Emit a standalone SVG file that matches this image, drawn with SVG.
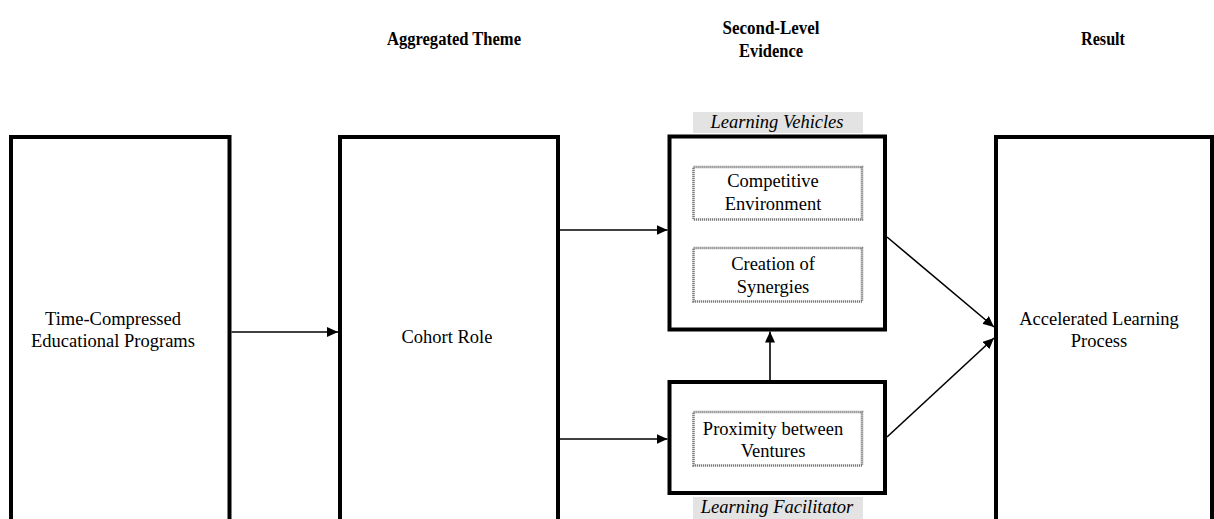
<svg xmlns="http://www.w3.org/2000/svg" width="1214" height="519" viewBox="0 0 1214 519">
  <style>
    .frame { fill: #ffffff; stroke: #000000; stroke-width: 4; }
    .inner { fill: #ffffff; stroke: #7a7a7a; stroke-width: 2.5; stroke-dasharray: 1.2 0.8; }
    .tag { fill: #e3e3e3; }
    .head { font-family: "Liberation Serif", "Times New Roman", serif; font-weight: bold; font-size: 18.5px; fill: #000; text-anchor: middle; }
    .body { font-family: "Liberation Serif", "Times New Roman", serif; font-size: 18.5px; fill: #000; text-anchor: middle; }
    .ital { font-family: "Liberation Serif", "Times New Roman", serif; font-style: italic; font-size: 18.5px; fill: #000; text-anchor: middle; }
    .link { stroke: #000000; stroke-width: 1.6; fill: none; marker-end: url(#arrow); }
  </style>
  <defs>
    <marker id="arrow" markerUnits="userSpaceOnUse" markerWidth="12" markerHeight="10" refX="11" refY="5" orient="auto">
      <path d="M0,0 L11,5 L0,10 Z" fill="#000"/>
    </marker>
  </defs>

  <rect width="1214" height="519" fill="#ffffff"/>

  <!-- column headers (narrow bold lettering) -->
  <g id="headers">
    <text class="head" x="454" y="45" textLength="134" lengthAdjust="spacingAndGlyphs">Aggregated Theme</text>
    <text class="head" x="771" y="34" textLength="97" lengthAdjust="spacingAndGlyphs">Second-Level</text>
    <text class="head" x="771" y="57" textLength="64" lengthAdjust="spacingAndGlyphs">Evidence</text>
    <text class="head" x="1103" y="45" textLength="44" lengthAdjust="spacingAndGlyphs">Result</text>
  </g>

  <g id="node-programs">
    <rect class="frame" x="11" y="137" width="218.5" height="400"/>
    <text class="body" x="113" y="325">Time-Compressed</text>
    <text class="body" x="113" y="347">Educational Programs</text>
  </g>

  <g id="node-cohort">
    <rect class="frame" x="340" y="137" width="218" height="400"/>
    <text class="body" x="447" y="343">Cohort Role</text>
  </g>

  <g id="node-vehicles">
    <rect class="tag" x="693" y="112" width="170" height="21"/>
    <text class="ital" x="777" y="128">Learning Vehicles</text>
    <rect class="frame" x="669.5" y="136.5" width="215.5" height="193"/>
    <g id="node-competitive">
      <rect class="inner" x="693.5" y="167" width="168.5" height="52.5"/>
      <text class="body" x="773" y="187">Competitive</text>
      <text class="body" x="773" y="210">Environment</text>
    </g>
    <g id="node-synergies">
      <rect class="inner" x="693.5" y="248" width="168.5" height="53.5"/>
      <text class="body" x="773" y="270">Creation of</text>
      <text class="body" x="773" y="293">Synergies</text>
    </g>
  </g>

  <g id="node-facilitator">
    <rect class="frame" x="669.5" y="382" width="215.5" height="111"/>
    <g id="node-proximity">
      <rect class="inner" x="693.5" y="412" width="168.5" height="53.5"/>
      <text class="body" x="773" y="435">Proximity between</text>
      <text class="body" x="773" y="457">Ventures</text>
    </g>
    <rect class="tag" x="693" y="497" width="170" height="24"/>
    <text class="ital" x="777" y="513">Learning Facilitator</text>
  </g>

  <g id="node-result">
    <rect class="frame" x="996" y="137" width="216" height="400"/>
    <text class="body" x="1099" y="325">Accelerated Learning</text>
    <text class="body" x="1099" y="347">Process</text>
  </g>

  <!-- connectors -->
  <g id="connectors">
    <line class="link" x1="231.5" y1="332" x2="338" y2="332"/>
    <line class="link" x1="560" y1="230" x2="667.5" y2="230"/>
    <line class="link" x1="560" y1="439" x2="667.5" y2="439"/>
    <line class="link" x1="770" y1="380" x2="770" y2="331.5"/>
    <line class="link" x1="887" y1="237" x2="994" y2="327"/>
    <line class="link" x1="887" y1="437" x2="994" y2="338"/>
  </g>
</svg>
